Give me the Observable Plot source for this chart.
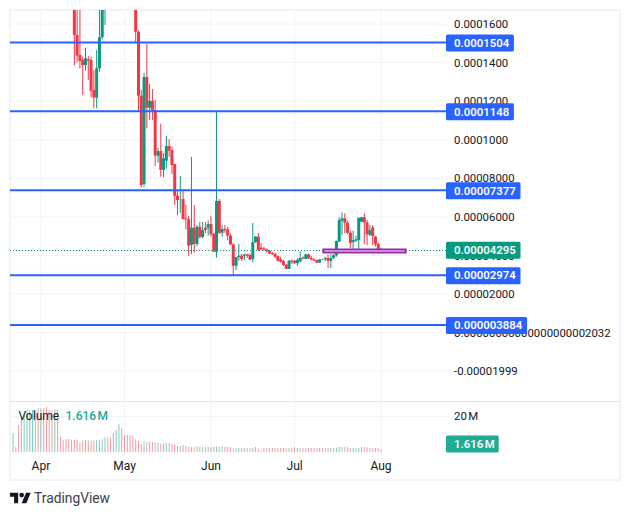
<!DOCTYPE html>
<html><head><meta charset="utf-8">
<script src="https://cdn.jsdelivr.net/npm/d3@7"></script>
<script src="https://cdn.jsdelivr.net/npm/@observablehq/plot@0.6"></script>
<style>
html,body{margin:0;padding:0;background:#fff;}
#wrap{position:relative;width:630px;height:515px;overflow:hidden;font-family:Roboto,sans-serif;}
#wrap svg{display:block;position:absolute;left:0;background:transparent;}
#frame{position:absolute;left:9px;top:9px;width:608px;height:468px;border:2px solid #f0f3fa;pointer-events:none;}
#sep{position:absolute;left:10px;top:401px;width:610px;height:1px;background:#e0e3eb;}
#logo{position:absolute;left:10px;top:490px;display:flex;align-items:center;gap:3px;color:#3a3e4a;font-size:13.8px;}
</style></head><body>
<div id="wrap"><div id="frame"></div><div id="sep"></div>
<div id="logo"><svg style="position:static" width="21" height="12" viewBox="0 4 36 18"><path fill="#131722" d="M14 22H7V11H0V4h14v18zM28 22h-8l7.5-18h8L28 22z"/><circle fill="#131722" cx="20" cy="8" r="4"/></svg><span>TradingView</span></div>
</div>
<script>
const firstDays = [12, 34]; // days after 1 Apr of each visible candle run
const run1Open = [18,15.46,14.42,14.16,13.90,14.20,14.16,12.61,12.21,13.73,15.34,16.8];
const run1High = [20,18,17.5,14.33,14.80,14.37,14.33,13.64,14.68,17,18,18];
const run1Low = [13.87,14.02,13.73,12.35,13.61,13.13,12.23,11.66,11.66,13.56,15.24,15.98];
const run1Close = [15.46,14.39,14.11,13.90,14.25,14.13,12.57,12.21,13.73,15.34,17.5,17.5];
const run2Open = [17.5,15.63,12.31,7.73,13.28,11.69,12.04,11.57,9.20,9.44,
 8.46,8.94,9.70,9.49,8.77,7.12,6.94,6.95,5.95,5.90,
 4.57,5.46,4.62,5.51,4.98,5.46,5.46,5.65,5.14,4.22,
 6.85,5.20,5.40,5.38,5.05,4.60,3.49,3.94,4.01,4.01,
 4.08,4.05,3.84,4.71,5.00,4.43,4.39,4.34,4.25,4.15,
 4.10,3.99,3.82,3.72,3.54,3.32,3.75,3.75,3.62,3.70,
 3.91,3.84,4.08,3.89,3.82,3.79,3.65,3.82,3.82,3.89,
 3.74,3.89,4.03,4.74,5.83,5.95,5.72,5.20,4.71,4.79,
 4.82,5.77,6.00,5.74,5.10,5.48,5.00,4.62,4.25];
const run2High = [18,15.7,12.61,13.49,15.03,12.92,12.66,12.09,9.60,10.86,
 9.34,10.22,10.05,9.67,8.77,7.42,8.15,7.42,6.64,6.07,
 9.13,6.64,5.60,5.77,5.76,5.76,5.83,6.07,5.19,11.48,
 6.95,5.60,5.60,5.51,5.17,4.65,3.94,4.62,4.10,4.10,
 4.11,4.13,5.71,5.03,5.19,4.65,4.48,4.39,4.31,4.20,
 4.17,4.03,3.96,3.79,3.58,3.79,3.82,3.79,3.88,4.22,
 3.99,4.10,4.13,3.99,3.88,3.79,3.84,3.85,3.96,4.05,
 4.08,4.10,4.80,6.00,6.26,6.21,5.83,5.31,5.31,5.03,
 5.98,6.02,6.21,5.86,5.60,5.60,5.03,4.68,4.43];
const run2Low = [15.11,11.48,7.54,7.57,10.62,11.05,11.05,8.66,8.84,8.11,
 8.08,8.54,9.15,8.25,6.64,6.12,6.24,5.90,5.38,4.01,
 4.10,4.17,4.51,4.91,4.91,5.17,5.05,5.00,4.20,3.91,
 5.14,5.00,5.20,4.82,4.57,2.98,3.27,3.75,3.74,3.79,
 3.89,3.79,3.67,4.67,4.25,4.31,4.27,4.19,4.10,4.05,
 3.88,3.70,3.65,3.48,3.32,3.32,3.58,3.58,3.48,3.70,
 3.82,3.82,3.84,3.77,3.74,3.63,3.65,3.79,3.74,3.37,
 3.37,3.84,3.96,4.72,5.08,5.17,5.14,4.39,4.22,4.72,
 4.22,5.76,4.62,4.57,5.03,4.57,4.48,4.13,4.20];
const run2Close = [15.63,12.31,7.68,13.28,11.69,12.04,11.57,9.20,9.44,8.46,
 9.06,9.70,9.46,8.72,7.12,6.90,6.95,5.91,5.90,4.53,
 5.46,4.62,5.51,4.98,5.34,5.34,5.65,5.12,4.22,6.85,
 5.20,5.40,5.33,5.05,4.60,3.48,3.94,4.01,3.84,4.08,
 4.01,3.80,4.71,5.00,4.31,4.34,4.32,4.24,4.13,4.10,
 3.96,3.75,3.70,3.53,3.32,3.75,3.68,3.62,3.79,3.89,
 3.85,4.08,3.88,3.82,3.75,3.65,3.82,3.80,3.88,3.74,
 3.89,4.03,4.77,5.86,5.95,5.72,5.20,4.68,4.82,4.86,
 5.98,6.00,5.74,5.12,5.34,5.03,4.60,4.31,4.295];

// Volume in millions, one per day from day -10 to day 122
const volumeFirstDay = -10;
const volumes = [10.5,2.8,15,20,21.5,23.3,23.3,23.3,23,24.4,
 24.2,24.4,25,23.3,23.3,23.7,23.3,8.5,6.5,7.2,
 7.2,6.8,6.7,6.7,5.2,6.5,6.7,6.5,6.3,6.3,
 6.7,6.7,7,8.3,8,8.3,10.5,12.2,15.5,13.3,
 9.4,9.4,9.4,8.9,7,6.3,4.4,5.9,5.6,5.6,
 5.6,5.2,5.2,4.6,4.8,5,5,4.4,4.3,3.3,
 3.3,3.9,3.5,2.8,2.8,2.8,3.1,2.8,2.8,2.8,
 2.8,2.8,3,3,3.1,3.3,3,2.8,2.8,2,
 2.2,2.2,2.2,2.2,2.2,2.2,2.4,2.8,1.9,0.9,
 2.2,2.2,2.2,2.2,2.2,2.2,2.2,2.2,2.2,2.2,
 2.2,2.6,2.2,2.2,2.2,2.2,2.2,2.2,2.2,2.2,
 2.2,2.2,2.2,2.2,2.2,2.4,2.4,2.8,2.8,2.8,
 2.6,2.2,2.2,2.2,2.2,2.8,2.8,2.6,2.2,2.2,
 2.2,2.2,1.616];
// direction of the days whose candle lies above the visible price range
const hiddenDirsA = "grrggggggrgrrrrgrrrrrr"; // days -10..11
const hiddenDirsB = "rrgggrrgrr";              // days 24..33

const priceTicks = [16,14,12,10,8,6,4,2,0,-1.999];
const priceTickLabels = ["0.0001600","0.0001400","0.0001200","0.0001000","0.00008000","0.00006000","0.00004000","0.00002000","0.00000000000000000002032","-0.00001999"];
const levels = [15.04,11.48,7.377,2.974,0.3884];
const levelLabels = ["0.0001504","0.0001148","0.00007377","0.00002974","0.000003884"];
const lastPrice = 4.295, lastLabel = "0.00004295";
const boxLow = 4.176, boxHigh = 4.332, boxStartDay = 101.5, boxEndDay = 131;
const monthDays = [0,30,61,91,122];
const monthNames = ["Apr","May","Jun","Jul","Aug"];
const viewDays = [-10.9,145.48];
const priceView = [-3.58,16.757];
const volumeView = [-2.222,27.778];

const RED="#F23645", GREEN="#089981", BLUE="#2962FF", GRID="#f0f3fa";
const FONT="Roboto,sans-serif";
const date = d => new Date(Date.UTC(2024,3,1)+d*864e5);
const p = v => v*1e-5;

function run(first,o,h,l,c){return o.map((_,i)=>({d:date(first+i),day:first+i,o:p(o[i]),h:p(h[i]),l:p(l[i]),c:p(c[i]),up:c[i]>=o[i]}));}
const candles = [...run(firstDays[0],run1Open,run1High,run1Low,run1Close),...run(firstDays[1],run2Open,run2High,run2Low,run2Close)];
const byDay = new Map(candles.map(k=>[k.day,k]));
const volRows = volumes.map((v,i)=>{
  const day=volumeFirstDay+i;
  let up;
  if(byDay.has(day)) up=byDay.get(day).up;
  else if(day<=11) up=hiddenDirsA[day+10]==="g";
  else up=hiddenDirsB[day-24]==="g";
  return {d:date(day),v,up};
});

// price-label flag drawn through the y scale
function flagMark(items){
  return (index,scales,values,dims)=>{
    const g=d3.create("svg:g").attr("font-family",FONT).attr("font-size",11.4).attr("font-weight",600).attr("text-anchor","start");
    const left=dims.width-dims.marginRight;
    for(const it of items){
      const y=scales.y(it.v)+(it.shift||0);
      const w=it.t.length*6.6+8.5-(it.trim||0);
      g.append("rect").attr("x",left).attr("y",y-8.5).attr("width",w).attr("height",17).attr("rx",1.5).attr("fill",it.c);
      g.append("text").attr("x",left+8).attr("y",y-0.3).attr("dy","0.36em").attr("fill","#fff").text(it.t);
    }
    return g.node();
  };
}

const priceFlags = [...levels.map((v,i)=>({v:p(v),t:levelLabels[i],c:BLUE})),{v:p(lastPrice),t:lastLabel,c:GREEN}];

const pricePane = Plot.plot({
  width:630,height:402,marginTop:10,marginBottom:0,marginLeft:10,marginRight:184,
  style:{fontFamily:FONT,fontSize:"11.4px",color:"#131722",background:"transparent"},
  x:{type:"utc",domain:viewDays.map(date),axis:null},
  y:{domain:priceView.map(p),axis:null},
  marks:[
    Plot.gridX(monthDays.map(date),{stroke:GRID,strokeOpacity:1}),
    Plot.gridY(priceTicks.map(p),{stroke:GRID,strokeOpacity:1,dy:-1}),
    Plot.axisY(priceTicks.map(p),{anchor:"right",tickSize:0,tickPadding:7.5,fontSize:11.4,fill:"#131722",label:null,dy:-0.5,
      tickFormat:v=>priceTickLabels[priceTicks.findIndex(t=>Math.abs(p(t)-v)<1e-9)]}),
    Plot.ruleX(candles,{x:"d",y1:"l",y2:"h",stroke:k=>k.up?GREEN:RED,strokeWidth:1,clip:true}),
    Plot.ruleX(candles,{x:"d",y1:"o",y2:"c",stroke:k=>k.up?GREEN:RED,strokeWidth:3,clip:true}),
    Plot.ruleY([p(lastPrice)],{stroke:GREEN,strokeWidth:1,strokeDasharray:"1,2",dy:-0.21,shapeRendering:"crispEdges"}),
    Plot.ruleY(levels.map(p),{stroke:BLUE,strokeWidth:2,dy:-1}),
    Plot.rect([{a:date(boxStartDay),b:date(boxEndDay),lo:p(boxLow),hi:p(boxHigh)}],{x1:"a",x2:"b",y1:"lo",y2:"hi",stroke:"#9C27B0",strokeWidth:2,fill:"#f6ecf8"}),
    flagMark(priceFlags)
  ]
});
pricePane.style.top="0px";

const volumePane = Plot.plot({
  width:630,height:78,marginTop:0,marginBottom:24,marginLeft:10,marginRight:184,
  style:{fontFamily:FONT,fontSize:"12px",color:"#131722",background:"transparent",overflow:"visible"},
  x:{type:"utc",domain:viewDays.map(date),axis:null},
  y:{domain:volumeView,axis:null},
  marks:[
    Plot.gridX(monthDays.map(date),{stroke:GRID,strokeOpacity:1}),
    Plot.gridY([20],{stroke:GRID,strokeOpacity:1}),
    Plot.axisY([20],{anchor:"right",tickSize:0,tickPadding:7.5,fontSize:11.4,fill:"#131722",label:null,tickFormat:v=>v+"\u202fM"}),
    Plot.axisX(monthDays.map(date),{anchor:"bottom",tickSize:0,tickPadding:5,fontSize:12,fill:"#131722",label:null,
      tickFormat:d=>monthNames[monthDays.findIndex(m=>+date(m)===+d)]}),
    Plot.ruleX(volRows,{x:"d",y1:0,y2:"v",stroke:k=>k.up?"rgba(8,153,129,.5)":"rgba(242,54,69,.5)",strokeWidth:1}),
    Plot.text(["Volume"],{frameAnchor:"top-left",dx:8,dy:14,text:d=>d,fill:"#131722",fontSize:12,textAnchor:"start",lineAnchor:"middle"}),
    Plot.text(["1.616\u202fM"],{frameAnchor:"top-left",dx:55,dy:14,text:d=>d,fill:"#22AB94",fontSize:12,fontWeight:500,textAnchor:"start",lineAnchor:"middle"}),
    flagMark([{v:1.616,t:"1.616\u202fM",c:"#22AB94",shift:-5,trim:2}])
  ]
});
volumePane.style.top="402px";

const wrap=document.getElementById("wrap");
wrap.appendChild(pricePane);wrap.appendChild(volumePane);
</script></body></html>
